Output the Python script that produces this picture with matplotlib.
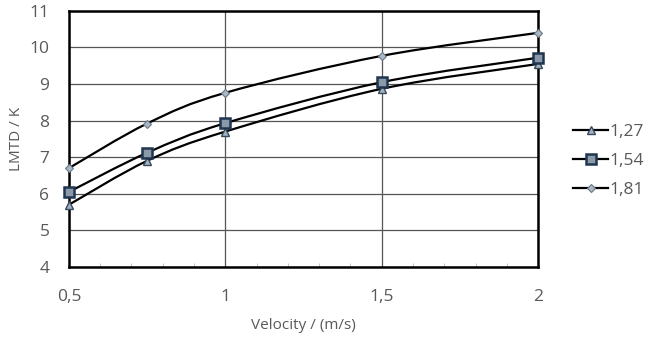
import numpy as np
import matplotlib
matplotlib.use("Agg")
import matplotlib.pyplot as plt
from matplotlib.path import Path
from matplotlib.patches import PathPatch
from matplotlib.ticker import MultipleLocator, FixedLocator

plt.rcParams['font.family'] = ['Open Sans', 'DejaVu Sans']

velocity = [0.5, 0.75, 1.0, 1.5, 2.0]
lmtd_127 = [5.7, 6.9, 7.7, 8.87, 9.55]
lmtd_154 = [6.05, 7.12, 7.93, 9.05, 9.72]
lmtd_181 = [6.7, 7.92, 8.76, 9.77, 10.4]
labels = ['1,27', '1,54', '1,81']

styles = [
    dict(marker='^', ms=6, mfc='#9fb3c8', mec='#3a4a5a', mew=1.0),
    dict(marker='s', ms=7.5, mfc='#8a9aa8', mec='#1f3550', mew=1.8),
    dict(marker='D', ms=4, mfc='#a9b8c6', mec='#6a7885', mew=0.8),
]


def smooth_path(xs, ys):
    # Excel-style smoothed line: cubic Bezier segments through the points
    xs = np.asarray(xs, float)
    ys = np.asarray(ys, float)
    n = len(xs)
    verts = [(xs[0], ys[0])]
    codes = [Path.MOVETO]
    for i in range(n - 1):
        x0, y0 = (xs[i - 1], ys[i - 1]) if i > 0 else (xs[i], ys[i])
        x3, y3 = (xs[i + 2], ys[i + 2]) if i + 2 < n else (xs[i + 1], ys[i + 1])
        c1 = (xs[i] + (xs[i + 1] - x0) / 6, ys[i] + (ys[i + 1] - y0) / 6)
        c2 = (xs[i + 1] - (x3 - xs[i]) / 6, ys[i + 1] - (y3 - ys[i]) / 6)
        verts += [c1, c2, (xs[i + 1], ys[i + 1])]
        codes += [Path.CURVE4] * 3
    return Path(verts, codes)


fig = plt.figure(figsize=(6.5, 3.4), dpi=100)
ax = fig.add_axes([0.106, 0.215, 0.722, 0.753])

for ys, lab, st in zip([lmtd_127, lmtd_154, lmtd_181], labels, styles):
    ax.add_patch(PathPatch(smooth_path(velocity, ys), fill=False, lw=1.6,
                           ec='black', zorder=3))
    ax.plot(velocity, ys, ls='none', zorder=4, clip_on=False, **st)
    ax.plot([], [], color='black', lw=1.6, label=lab, **st)

ax.set_xlim(0.5, 2)
ax.set_ylim(4, 11)
ax.xaxis.set_major_locator(FixedLocator([0.5, 1, 1.5, 2]))
ax.xaxis.set_minor_locator(MultipleLocator(0.1))
ax.yaxis.set_major_locator(MultipleLocator(1))
ax.set_xticklabels(['0,5', '1', '1,5', '2'])
ax.grid(True, which='major', color='#555555', lw=0.9)
ax.set_axisbelow(True)
for s in ax.spines.values():
    s.set_linewidth(1.8)
    s.set_color('black')
ax.tick_params(which='major', length=0, labelsize=12.5, colors='#595959')
ax.tick_params(which='major', axis='x', pad=16)
ax.tick_params(which='major', axis='y', pad=14)
ax.tick_params(which='minor', axis='x', direction='in', length=3, color='#bbbbbb')
ax.set_xlabel('Velocity / (m/s)', fontsize=11, color='#595959', labelpad=9)
ax.set_ylabel('LMTD / K', fontsize=11, color='#595959', labelpad=4)

leg = ax.legend(loc='center left', bbox_to_anchor=(1.06, 0.414), frameon=False,
                fontsize=12.5, handlelength=2.0, handletextpad=0.1,
                labelspacing=0.72, borderaxespad=0, labelcolor='#595959')

fig.savefig('out.png', dpi=100)
